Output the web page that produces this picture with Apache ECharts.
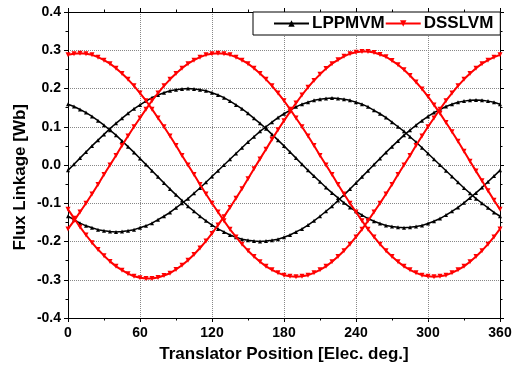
<!DOCTYPE html>
<html>
<head>
<meta charset="utf-8">
<script src="https://cdn.jsdelivr.net/npm/echarts@6/dist/echarts.min.js"></script>
<style>
html,body{margin:0;padding:0;background:#fff;}
#chart{width:518px;height:369px;}
</style>
</head>
<body>
<div id="chart"></div>
<script>
// Translator position [elec. deg.]
const xs = [0,5,10,15,20,25,30,35,40,45,50,55,
  60,65,70,75,80,85,90,95,100,105,110,115,
  120,125,130,135,140,145,150,155,160,165,170,175,
  180,185,190,195,200,205,210,215,220,225,230,235,
  240,245,250,255,260,265,270,275,280,285,290,295,
  300,305,310,315,320,325,330,335,340,345,350,355,
  360];

// LPPMVM phases (black)
const lppmA = [0.159,0.153,0.145,0.137,0.127,0.116,0.104,0.091,0.078,0.063,0.048,0.033,
  0.017,0.001,-0.015,-0.031,-0.047,-0.063,-0.078,-0.093,-0.108,-0.121,-0.134,-0.146,
  -0.157,-0.167,-0.175,-0.183,-0.189,-0.194,-0.197,-0.199,-0.200,-0.199,-0.197,-0.194,
  -0.189,-0.183,-0.175,-0.167,-0.157,-0.146,-0.134,-0.121,-0.108,-0.093,-0.078,-0.063,
  -0.047,-0.031,-0.015,0.001,0.017,0.033,0.048,0.063,0.078,0.091,0.104,0.116,
  0.127,0.137,0.145,0.153,0.159,0.164,0.167,0.169,0.170,0.169,0.167,0.164,
  0.159];
const lppmB = [-0.014,0.002,0.018,0.034,0.050,0.065,0.080,0.095,0.109,0.122,0.135,0.147,
  0.157,0.167,0.176,0.183,0.189,0.194,0.197,0.199,0.200,0.199,0.197,0.194,
  0.189,0.183,0.176,0.167,0.157,0.147,0.135,0.122,0.109,0.095,0.080,0.065,
  0.050,0.034,0.018,0.002,-0.014,-0.029,-0.044,-0.059,-0.073,-0.086,-0.099,-0.111,
  -0.121,-0.131,-0.140,-0.147,-0.153,-0.158,-0.161,-0.163,-0.164,-0.163,-0.161,-0.158,
  -0.153,-0.147,-0.140,-0.131,-0.121,-0.111,-0.099,-0.086,-0.073,-0.059,-0.044,-0.029,
  -0.014];
const lppmC = [-0.134,-0.143,-0.152,-0.159,-0.164,-0.169,-0.172,-0.174,-0.175,-0.174,-0.172,-0.169,
  -0.164,-0.159,-0.152,-0.143,-0.134,-0.124,-0.112,-0.100,-0.088,-0.074,-0.060,-0.045,
  -0.030,-0.015,0.000,0.015,0.030,0.045,0.060,0.074,0.088,0.100,0.112,0.124,
  0.134,0.143,0.152,0.159,0.164,0.169,0.172,0.174,0.175,0.174,0.172,0.169,
  0.164,0.159,0.152,0.143,0.134,0.124,0.112,0.100,0.088,0.074,0.060,0.045,
  0.030,0.015,0.000,-0.015,-0.030,-0.045,-0.060,-0.074,-0.088,-0.100,-0.112,-0.124,
  -0.134];

// DSSLVM phases (red)
const dsslA = [0.288,0.291,0.292,0.291,0.288,0.282,0.274,0.265,0.253,0.239,0.224,0.207,
  0.188,0.168,0.146,0.123,0.100,0.076,0.051,0.025,0.000,-0.025,-0.051,-0.076,
  -0.100,-0.123,-0.146,-0.168,-0.188,-0.207,-0.224,-0.239,-0.253,-0.265,-0.274,-0.282,
  -0.288,-0.291,-0.292,-0.291,-0.288,-0.282,-0.274,-0.265,-0.253,-0.239,-0.224,-0.207,
  -0.188,-0.168,-0.146,-0.123,-0.100,-0.076,-0.051,-0.025,0.000,0.025,0.051,0.076,
  0.100,0.123,0.146,0.168,0.188,0.207,0.224,0.239,0.253,0.265,0.274,0.282,
  0.288];
const dsslB = [-0.167,-0.146,-0.123,-0.100,-0.076,-0.051,-0.025,0.000,0.025,0.051,0.076,0.100,
  0.123,0.146,0.168,0.188,0.207,0.224,0.239,0.253,0.265,0.274,0.282,0.288,
  0.291,0.292,0.291,0.288,0.282,0.274,0.265,0.253,0.239,0.224,0.207,0.188,
  0.168,0.146,0.123,0.100,0.076,0.051,0.025,0.000,-0.025,-0.051,-0.076,-0.100,
  -0.123,-0.146,-0.168,-0.188,-0.207,-0.224,-0.239,-0.253,-0.265,-0.274,-0.282,-0.288,
  -0.291,-0.292,-0.291,-0.288,-0.282,-0.274,-0.265,-0.253,-0.239,-0.224,-0.207,-0.188,
  -0.167];
const dsslC = [-0.116,-0.139,-0.162,-0.183,-0.203,-0.221,-0.237,-0.252,-0.265,-0.275,-0.284,-0.291,
  -0.295,-0.297,-0.297,-0.294,-0.289,-0.283,-0.273,-0.262,-0.249,-0.234,-0.217,-0.199,
  -0.179,-0.157,-0.135,-0.111,-0.087,-0.062,-0.036,-0.010,0.016,0.041,0.067,0.092,
  0.116,0.139,0.162,0.183,0.203,0.221,0.237,0.252,0.265,0.275,0.284,0.291,
  0.295,0.297,0.297,0.294,0.289,0.283,0.273,0.262,0.249,0.234,0.217,0.199,
  0.179,0.157,0.135,0.111,0.087,0.062,0.036,0.010,-0.016,-0.041,-0.067,-0.092,
  -0.116];

const seriesNames = ['LPPMVM', 'DSSLVM'];
const xTicks = [0, 60, 120, 180, 240, 300, 360];
const yTicks = [-0.4, -0.3, -0.2, -0.1, 0.0, 0.1, 0.2, 0.3, 0.4];
const xTitle = 'Translator Position [Elec. deg.]';
const yTitle = 'Flux Linkage [Wb]';

const FONT = '"Liberation Sans", Arial, sans-serif';
const pair = arr => xs.map((x, i) => [x, arr[i]]);

function blackSeries(arr) {
  return {
    name: seriesNames[0], type: 'line', data: pair(arr),
    symbol: 'triangle', symbolSize: 4, showSymbol: true,
    lineStyle: { color: '#000', width: 1.5 },
    itemStyle: { color: '#000' },
    z: 2, animation: false
  };
}
function redSeries(arr) {
  return {
    name: seriesNames[1], type: 'line', data: pair(arr),
    symbol: 'triangle', symbolRotate: 180, symbolSize: 5, showSymbol: true,
    lineStyle: { color: '#ff0000', width: 2 },
    itemStyle: { color: '#ff0000' },
    z: 3, animation: false
  };
}

const axisCommonX = {
  type: 'value', min: xTicks[0], max: xTicks[xTicks.length - 1], interval: 60,
  axisLine: { show: true, onZero: false, lineStyle: { color: '#000', width: 1 } },
  axisTick: { show: true, inside: false, length: 4, lineStyle: { color: '#000' } },
  minorTick: { show: true, splitNumber: 2, length: 2.5, lineStyle: { color: '#000' } }
};
const axisCommonY = {
  type: 'value', min: yTicks[0], max: yTicks[yTicks.length - 1], interval: 0.1,
  axisLine: { show: true, onZero: false, lineStyle: { color: '#000', width: 1 } },
  axisTick: { show: true, inside: false, length: 4, lineStyle: { color: '#000' } },
  minorTick: { show: true, splitNumber: 2, length: 2.5, lineStyle: { color: '#000' } }
};

const chart = echarts.init(document.getElementById('chart'), null, { renderer: 'canvas' });
chart.setOption({
  backgroundColor: '#fff',
  animation: false,
  grid: { left: 68, right: 18, top: 12, bottom: 51, containLabel: false },
  legend: {
    data: seriesNames,
    left: 253, top: 12,
    padding: [3, 7, 3, 20],
    itemGap: 0,
    itemWidth: 35, itemHeight: 8,
    backgroundColor: '#fff',
    borderColor: '#000', borderWidth: 1, borderRadius: 0,
    textStyle: { fontFamily: FONT, fontWeight: 'bold', fontSize: 17, color: '#000', padding: [0, 0, 0, -2] }
  },
  xAxis: [
    Object.assign({}, axisCommonX, {
      position: 'bottom',
      axisLabel: { show: true, margin: 8, fontFamily: FONT, fontWeight: 'bold', fontSize: 14, color: '#000' },
      splitLine: { show: true, lineStyle: { color: '#888', type: [1, 1], width: 1 } },
      name: xTitle, nameLocation: 'middle', nameGap: 28,
      nameTextStyle: { fontFamily: FONT, fontWeight: 'bold', fontSize: 17, color: '#000' }
    }),
    Object.assign({}, axisCommonX, {
      position: 'top',
      axisLabel: { show: false }, splitLine: { show: false }
    })
  ],
  yAxis: [
    Object.assign({}, axisCommonY, {
      position: 'left',
      axisLabel: { show: true, margin: 7, fontFamily: FONT, fontWeight: 'bold', fontSize: 14, color: '#000',
        formatter: v => (Math.abs(v) < 1e-9 ? 0 : v).toFixed(1) },
      splitLine: { show: true, lineStyle: { color: '#888', type: [1, 1], width: 1 } }
    }),
    Object.assign({}, axisCommonY, {
      position: 'right',
      axisLabel: { show: false }, splitLine: { show: false }
    })
  ],
  graphic: [{
    type: 'text', left: 12, top: 104, rotation: Math.PI / 2,
    style: { text: yTitle, fontFamily: FONT, fontWeight: 'bold', fontSize: 17, fill: '#000' },
    silent: true
  }],
  series: [
    blackSeries(lppmA), blackSeries(lppmB), blackSeries(lppmC),
    redSeries(dsslA), redSeries(dsslB), redSeries(dsslC)
  ]
});
</script>
</body>
</html>
